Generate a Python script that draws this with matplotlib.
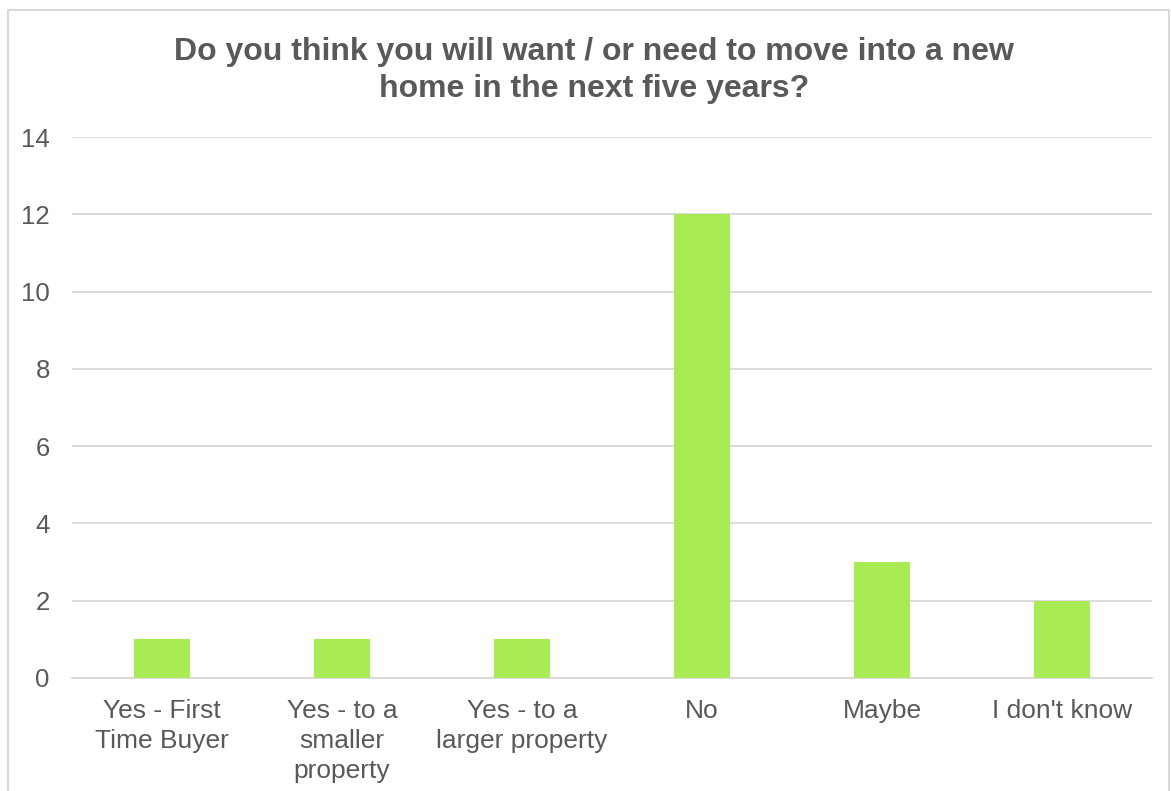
import matplotlib.pyplot as plt
from matplotlib.patches import Rectangle

categories = ["Yes - First\nTime Buyer", "Yes - to a\nsmaller\nproperty", "Yes - to a\nlarger property",
              "No", "Maybe", "I don't know"]
counts = [1, 1, 1, 12, 3, 2]
yticks = [0, 2, 4, 6, 8, 10, 12, 14]
title = "Do you think you will want / or need to move into a new\nhome in the next five years?"

plt.rcParams['font.family'] = ['Liberation Sans', 'DejaVu Sans']
text_color = '#595959'
grid_color = '#D9D9D9'

fig = plt.figure(figsize=(11.71, 7.91), dpi=100)
ax = fig.add_axes([0.0615, 0.1429, 0.9223, 0.6839])

x = range(len(categories))
ax.bar(x, counts, width=0.31, color='#A9EB55', zorder=3)

ax.set_xlim(-0.5, len(categories) - 0.5)
ax.set_ylim(0, 14)
ax.set_yticks(yticks)
ax.set_xticks(list(x))
ax.set_xticklabels(categories, fontsize=19, color=text_color, linespacing=1.32)
ax.tick_params(axis='y', labelsize=18.5, labelcolor=text_color, length=0, pad=16)
ax.tick_params(axis='x', length=0, pad=15)
ax.grid(axis='y', color=grid_color, linewidth=1.3, zorder=0)
for s in ['top', 'right', 'left']:
    ax.spines[s].set_visible(False)
ax.spines['bottom'].set_color(grid_color)
ax.spines['bottom'].set_linewidth(1.3)

fig.text(0.507, 0.953, title, ha='center', va='top', fontsize=23, fontweight='bold',
         color=text_color, linespacing=1.3)

# chart border
fig.patches.append(Rectangle((8 / 1171, -0.05), 1161 / 1171, 1.05 - 10 / 791,
                             transform=fig.transFigure, fill=False,
                             edgecolor=grid_color, linewidth=1.5))

fig.savefig('out.png', dpi=100)
